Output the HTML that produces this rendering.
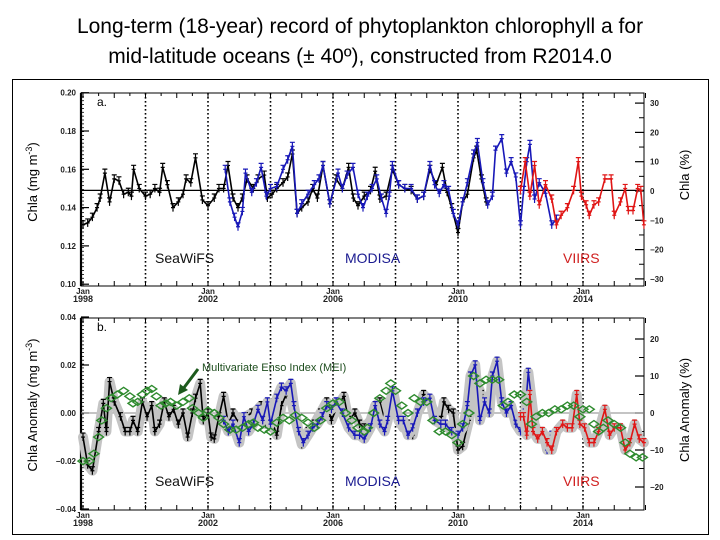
<!DOCTYPE html>
<html><head><meta charset="utf-8"><style>
html,body{margin:0;padding:0;background:#fff;}
svg{display:block;font-family:"Liberation Sans",sans-serif;}
</style></head><body>
<svg id="chart" width="720" height="540" viewBox="0 0 720 540">
<text x="360" y="33" font-size="21" text-anchor="middle">Long-term (18-year) record of phytoplankton chlorophyll a for</text>
<text x="360" y="63" font-size="21" text-anchor="middle">mid-latitude oceans (± 40º), constructed from R2014.0</text>
<rect x="12.5" y="79.5" width="696" height="455" fill="none" stroke="#000" stroke-width="1"/>
<g id="layer"></g>
</svg>
<script>
// ---------- data ----------
const tickYears = [1998, 2002, 2006, 2010, 2014];
const dividerYears = [2000, 2002, 2004, 2006, 2008, 2010, 2012, 2014];
const leftTicksA = [0.10, 0.12, 0.14, 0.16, 0.18, 0.20];
const rightTicksA = [-30, -20, -10, 0, 10, 20, 30];
const leftTicksB = [-0.04, -0.02, 0.00, 0.02, 0.04];
const rightTicksB = [-20, -10, 0, 10, 20];
const meanA = 0.149;

const seawifsAYears = [1998.0,1998.15,1998.3,1998.45,1998.55,1998.7,1998.85,1999.0,1999.15,1999.3,1999.45,1999.55,1999.62,1999.8,2000.0,2000.15,2000.3,2000.45,2000.55,2000.7,2000.88,2001.05,2001.2,2001.3,2001.45,2001.6,2001.82,2002.0,2002.2,2002.35,2002.5,2002.64,2002.8,2002.96,2003.1,2003.25,2003.45,2003.6,2003.8,2003.9,2004.05,2004.2,2004.4,2004.55,2004.7,2004.85,2005.0,2005.2,2005.35,2005.5,2005.68,2005.9,2006.1,2006.3,2006.5,2006.65,2006.8,2007.0,2007.2,2007.35,2007.5,2007.7,2007.9,2008.1,2008.3,2008.5,2008.7,2008.9,2009.1,2009.3,2009.5,2009.65,2009.8,2010.0,2010.15,2010.3,2010.5,2010.6,2010.75,2010.9];
const seawifsAValues = [.131,.132,.135,.140,.145,.158,.143,.155,.154,.147,.148,.146,.160,.150,.146,.147,.150,.148,.161,.152,.140,.143,.147,.155,.153,.166,.144,.141,.145,.150,.150,.162,.145,.140,.145,.155,.150,.155,.157,.145,.147,.150,.153,.156,.168,.137,.140,.143,.150,.145,.162,.142,.155,.150,.161,.145,.141,.146,.149,.159,.1445,.146,.160,.152,.150,.149,.1445,.146,.160,.152,.161,.148,.140,.127,.143,.147,.166,.170,.155,.143];

const modisAYears = [2002.55,2002.7,2002.85,2002.96,2003.1,2003.2,2003.4,2003.55,2003.7,2003.87,2004.0,2004.2,2004.4,2004.55,2004.7,2004.85,2005.0,2005.2,2005.4,2005.55,2005.68,2005.9,2006.16,2006.3,2006.45,2006.64,2006.8,2006.96,2007.1,2007.25,2007.4,2007.55,2007.7,2007.8,2007.9,2008.1,2008.3,2008.5,2008.7,2008.9,2009.1,2009.25,2009.4,2009.55,2009.7,2009.85,2010.0,2010.15,2010.3,2010.5,2010.62,2010.8,2010.95,2011.1,2011.2,2011.4,2011.55,2011.7,2011.85,2012.0,2012.1,2012.2,2012.3,2012.45,2012.6,2012.8,2013.0,2013.15];
const modisAValues = [.160,.143,.135,.130,.138,.158,.148,.153,.161,.146,.150,.151,.160,.165,.172,.137,.142,.147,.152,.155,.162,.142,.158,.150,.157,.161,.147,.140,.146,.150,.155,.145,.137,.146,.162,.152,.150,.150,.1445,.146,.162,.152,.1475,.152,.149,.137,.131,.143,.153,.168,.174,.153,.1415,.146,.170,.176,.158,.164,.156,.131,.149,.164,.173,.1445,.153,.1475,.131,.134];

const viirsAYears = [2012.0,2012.15,2012.3,2012.45,2012.6,2012.8,2013.0,2013.15,2013.3,2013.5,2013.7,2013.85,2013.95,2014.1,2014.2,2014.35,2014.5,2014.7,2014.9,2015.0,2015.2,2015.35,2015.45,2015.6,2015.75,2015.85,2015.95];
const viirsAValues = [.149,.164,.146,.162,.1415,.152,.1445,.131,.136,.140,.149,.164,.146,.1415,.136,.1415,.143,.155,.155,.136,.143,.150,.1385,.1385,.150,.149,.131];

// panel b values in percent (right axis)
const seawifsBYears = [1998.0,1998.15,1998.3,1998.5,1998.65,1998.75,1998.85,1999.0,1999.2,1999.35,1999.5,1999.6,1999.75,1999.9,2000.05,2000.2,2000.3,2000.45,2000.6,2000.75,2000.9,2001.05,2001.2,2001.35,2001.5,2001.6,2001.75,2001.85,2002.0,2002.1,2002.2,2002.35,2002.5,2002.65,2002.8,2003.0,2003.2,2003.4,2003.55,2003.7,2003.85,2004.0,2004.2,2004.35,2004.5,2004.65,2004.8,2005.0,2005.2,2005.4,2005.6,2005.8,2005.95,2006.15,2006.35,2006.5,2006.7,2006.85,2007.0,2007.2,2007.35,2007.5,2007.65,2007.8,2007.95,2008.1,2008.25,2008.4,2008.55,2008.7,2008.9,2009.1,2009.25,2009.45,2009.55,2009.7,2009.85,2010.0,2010.15,2010.35,2010.5,2010.6,2010.75,2010.9];
const seawifsBValues = [-6.5,-14,-15.6,-5,2.6,-5,8.5,3,-1,-5,-5,-2,-5,3,-1,2,-5,-3,3,-1,1,-3,0,-6.5,0,4,8,-2,0,-6.5,-7,-1,4.5,-3,0,-3,-1,0,0.6,2,-3,-1,-6,2,5,4,-2,-8.5,-5,-3,0,3,-2,2,4.5,-2,0,-3,-4,-2,2,3,-2,3,5,-2,-4,-3,-6,0,5,3,0,-2,3,1,0,-10,-9,-2,10,8,5,2];

const modisBYears = [2002.5,2002.65,2002.8,2003.0,2003.15,2003.3,2003.45,2003.6,2003.75,2003.9,2004.0,2004.2,2004.35,2004.5,2004.65,2004.75,2004.9,2005.05,2005.2,2005.35,2005.5,2005.65,2005.8,2005.95,2006.1,2006.3,2006.5,2006.7,2006.85,2007.0,2007.2,2007.35,2007.5,2007.65,2007.75,2007.9,2008.1,2008.25,2008.4,2008.55,2008.7,2008.9,2009.1,2009.25,2009.45,2009.6,2009.8,2010.0,2010.15,2010.3,2010.4,2010.55,2010.7,2010.85,2011.0,2011.1,2011.25,2011.4,2011.55,2011.7,2011.85,2012.0,2012.15,2012.25,2012.45,2012.6,2012.75,2012.85,2013.0];
const modisBValues = [-2,-5,-3,-8,-1,-5,-3,1,-2,3,-3,4,7,6,8,2,-5,-8,-6,-4,-3,-1,2,1,3,0,-4,-6,-6,-7,-4,2,-3,-5,-2,6,-2,-2,-6,-4,0,3,4,-2,-3,-3,-5,-6,-4,2,10,13,-2,3,0,10,14,3,0,2,-3,-5,0,11,-3,-7,-6,-10,-6];

const viirsBYears = [2012.0,2012.1,2012.2,2012.3,2012.4,2012.55,2012.7,2012.85,2013.0,2013.15,2013.35,2013.5,2013.65,2013.8,2013.9,2014.05,2014.2,2014.35,2014.5,2014.7,2014.85,2015.0,2015.2,2015.35,2015.5,2015.65,2015.8,2015.95];
const viirsBValues = [-1,-1,-6,5,-5,-7,-5,-8,-10,-5,-3,-4,-4,5,-3,-4,-8,-8,-5,1,-6,-4,-4,-10,-8,-3,-7,-8];

const meiYears = [1998.0,1998.2,1998.35,1998.5,1998.6,1998.75,1998.9,1999.1,1999.3,1999.5,1999.6,1999.75,1999.9,2000.05,2000.2,2000.35,2000.5,2000.65,2000.8,2001.0,2001.2,2001.4,2001.5,2001.7,2001.85,2002.0,2002.2,2002.35,2002.5,2002.7,2002.9,2003.1,2003.3,2003.45,2003.6,2003.8,2004.0,2004.2,2004.4,2004.6,2004.8,2005.0,2005.2,2005.4,2005.6,2005.8,2006.0,2006.2,2006.4,2006.6,2006.8,2007.0,2007.1,2007.3,2007.5,2007.7,2007.85,2008.0,2008.2,2008.4,2008.6,2008.8,2009.0,2009.2,2009.4,2009.6,2009.8,2010.0,2010.15,2010.35,2010.5,2010.7,2010.9,2011.1,2011.3,2011.45,2011.6,2011.8,2012.0,2012.2,2012.35,2012.5,2012.7,2012.9,2013.1,2013.3,2013.5,2013.7,2013.9,2014.0,2014.2,2014.35,2014.5,2014.65,2014.8,2015.0,2015.2,2015.35,2015.5,2015.7,2015.9];
const meiValues = [-13,-13,-11,-6.5,-2,1.3,4,5,6,4.5,2.6,3,5,6,6.5,4.5,2,2.6,3,2,3,4,1.3,0,-1.3,0.6,0,-1.3,-3,-4.5,-4.5,-4,-3,-2.6,-4,-4.5,-5,-2.6,-1.3,-2,-0.6,-1.3,-2.6,-4,-2,1.3,2.6,3,0,-2,-4,-5,-4,0,4,6,8,6,2,0,4,3,3,-2,-5,-5,-6,-8,-3,0,10,8,9,9,9,2,3,5,5,3,-3,-1,0,0,1,1,2,2,-1,1,1,-3,-5,-4,-2,-3,-4,-8,-11,-12,-12];

// ---------- scales ----------
const xs = y => 83 + (y - 1998) * 31.25;
const yA = v => 92.7 + (0.20 - v) / 0.10 * 191.5;
const yApct = p => 191 - p * 2.93;
const yB = v => 413 - v * 2400;
const yBpct = p => 413 - p * 3.7;
const X0 = 81, X1 = 644;

const NS = "http://www.w3.org/2000/svg";
const layer = document.getElementById('layer');
function mk(tag, attrs, parent) {
  const e = document.createElementNS(NS, tag);
  for (const k in attrs) e.setAttribute(k, attrs[k]);
  (parent || layer).appendChild(e);
  return e;
}

function panel(id, top, bottom, leftTicks, leftFn, rightTicks, rightFn, leftFmt) {
  const g = mk('g', {});
  
  
  dividerYears.forEach(y => {
    const l = mk('line', {x1: xs(y), x2: xs(y), y1: top, y2: bottom, stroke: '#000', 'stroke-width': 1.6, 'stroke-dasharray': '1.6 2.4'}, g);
    
    
  });
  const f = mk('rect', {x: X0, y: top, width: X1 - X0, height: bottom - top, fill: 'none', stroke: '#000', 'stroke-width': 1}, g);
  
  
  mk('line', {x1: X0, x2: X0, y1: top, y2: bottom, stroke: '#000', 'stroke-width': 2.2}, g);
  for (let yy = top; yy <= bottom; yy += (bottom - top) / 50) {
    mk('line', {x1: X0, x2: X0 + 3, y1: yy, y2: yy, stroke: '#000', 'stroke-width': 0.8}, g);
  }
  leftTicks.forEach(v => {
    const yy = leftFn(v);
    mk('line', {x1: X0, x2: X0 + 8, y1: yy, y2: yy, stroke: '#000', 'stroke-width': 1.2}, g);
    const t = mk('text', {x: X0 - 5, y: yy + 3, 'font-size': 8, 'font-weight': 'bold', 'text-anchor': 'end', fill: '#222'}, g);
    t.textContent = leftFmt(v);
    
    
  });
  rightTicks.forEach(p => {
    const yy = rightFn(p);
    mk('line', {x1: X1, x2: X1 - 9, y1: yy, y2: yy, stroke: '#000', 'stroke-width': 1.2}, g);
    const t = mk('text', {x: X1 + 6, y: yy + 3, 'font-size': 8, 'font-weight': 'bold', fill: '#222'}, g);
    t.textContent = p < 0 ? '\u2212' + (-p) : String(p);
    
    
  });
  for (let i = 0; i < rightTicks.length - 1; i++) {
    const yy = (rightFn(rightTicks[i]) + rightFn(rightTicks[i + 1])) / 2;
    mk('line', {x1: X1, x2: X1 - 5, y1: yy, y2: yy, stroke: '#000', 'stroke-width': 1}, g);
  }
  for (let y = 1998; y <= 2016; y += 0.5) {
    const big = Number.isInteger(y);
    mk('line', {x1: xs(y), x2: xs(y), y1: top, y2: top + (big ? 5 : 3), stroke: '#000', 'stroke-width': 1}, g);
    mk('line', {x1: xs(y), x2: xs(y), y1: bottom, y2: bottom - (big ? 5 : 3), stroke: '#000', 'stroke-width': 1}, g);
  }
  tickYears.forEach(y => {
    const t1 = mk('text', {x: xs(y), y: bottom + 8, 'font-size': 8, 'font-weight': 'bold', 'text-anchor': 'middle', fill: '#222'}, g);
    t1.textContent = 'Jan';
    
    
    const t2 = mk('text', {x: xs(y), y: bottom + 16, 'font-size': 9, 'font-weight': 'bold', 'text-anchor': 'middle', fill: '#222'}, g);
    t2.textContent = String(y);
    
    
  });
}

function series(name, years, vals, yfn, color, band) {
  const pts = years.map((y, i) => [xs(y), yfn(vals[i])]);
  const d = pts.map(p => p[0].toFixed(1) + ',' + p[1].toFixed(1)).join(' ');
  if (band) {
    const b = mk('polyline', {points: d, fill: 'none', stroke: '#c4c4c4', 'stroke-width': 10, 'stroke-linejoin': 'round', 'stroke-linecap': 'round'});
    
    
  }
  const g = mk('g', {stroke: color, fill: 'none'});
  
  
  const l = mk('polyline', {points: d, 'stroke-width': 1.6}, g);
  
  
  pts.forEach(p => {
    mk('path', {d: `M${p[0]},${p[1] - 4}V${p[1] + 4}M${p[0] - 2.5},${p[1] - 4}H${p[0] + 2.5}M${p[0] - 2},${p[1]}H${p[0] + 2}`, 'stroke-width': 1.2}, g);
  });
}

panel('panel-a', 93, 286, leftTicksA, yA, rightTicksA, yApct, v => v.toFixed(2));
const ml = mk('line', {x1: X0, x2: X1, y1: yA(meanA), y2: yA(meanA), stroke: '#000', 'stroke-width': 1.2});


series('seawifs-series-a', seawifsAYears, seawifsAValues, yA, '#000', false);
series('modisa-series-a', modisAYears, modisAValues, yA, '#1818b8', false);
series('viirs-series-a', viirsAYears, viirsAValues, yA, '#e01515', false);

panel('panel-b', 318, 510, leftTicksB, yB, rightTicksB, yBpct, v => v === 0 ? '0.00' : (v < 0 ? '\u2212' + (-v).toFixed(2) : v.toFixed(2)));
const zl = mk('line', {x1: X0, x2: X1, y1: yBpct(0), y2: yBpct(0), stroke: '#888', 'stroke-width': 1});


series('seawifs-series-b', seawifsBYears, seawifsBValues, yBpct, '#000', true);
series('modisa-series-b', modisBYears, modisBValues, yBpct, '#1818b8', true);
series('viirs-series-b', viirsBYears, viirsBValues, yBpct, '#e01515', true);
const mg = mk('g', {stroke: '#2e8b2e', fill: 'none', 'stroke-width': 1.4});


meiYears.forEach((y, i) => {
  const x = xs(y), yy = yBpct(meiValues[i]);
  const dm = mk('path', {d: `M${x - 5},${yy}L${x},${yy - 3.5}L${x + 5},${yy}L${x},${yy + 3.5}Z`}, mg);
  
  
});
</script>
<svg width="720" height="540" style="position:absolute;left:0;top:0">
<g font-family="Liberation Sans, sans-serif">
<text x="97" y="106" font-size="12">a.</text>
<text x="97" y="331" font-size="12">b.</text>
<text x="155" y="263" font-size="14" fill="#111">SeaWiFS</text>
<text x="345" y="263" font-size="14" fill="#1a1a90">MODISA</text>
<text x="563" y="263" font-size="14" fill="#d02020">VIIRS</text>
<text x="155" y="486" font-size="14" fill="#111">SeaWiFS</text>
<text x="345" y="486" font-size="14" fill="#1a1a90">MODISA</text>
<text x="563" y="486" font-size="14" fill="#d02020">VIIRS</text>
<text x="202" y="371" font-size="11" fill="#1d4d1d">Multivariate Enso Index (MEI)</text>
<line x1="198" y1="369" x2="183" y2="389" stroke="#1d5a1d" stroke-width="3"/>
<path d="M178,395 L180,384 L188,390 Z" fill="#1d5a1d"/>
<text transform="translate(37,182) rotate(-90)" font-size="13" text-anchor="middle">Chla (mg m<tspan dy="-5" font-size="9">-3</tspan><tspan dy="5">)</tspan></text>
<text transform="translate(37,405) rotate(-90)" font-size="13" text-anchor="middle">Chla Anomaly (mg m<tspan dy="-5" font-size="9">-3</tspan><tspan dy="5">)</tspan></text>
<text transform="translate(689,175) rotate(-90)" font-size="13" text-anchor="middle">Chla (%)</text>
<text transform="translate(689,410) rotate(-90)" font-size="13" text-anchor="middle">Chla Anomaly (%)</text>
</g>
</svg>
</body></html>
